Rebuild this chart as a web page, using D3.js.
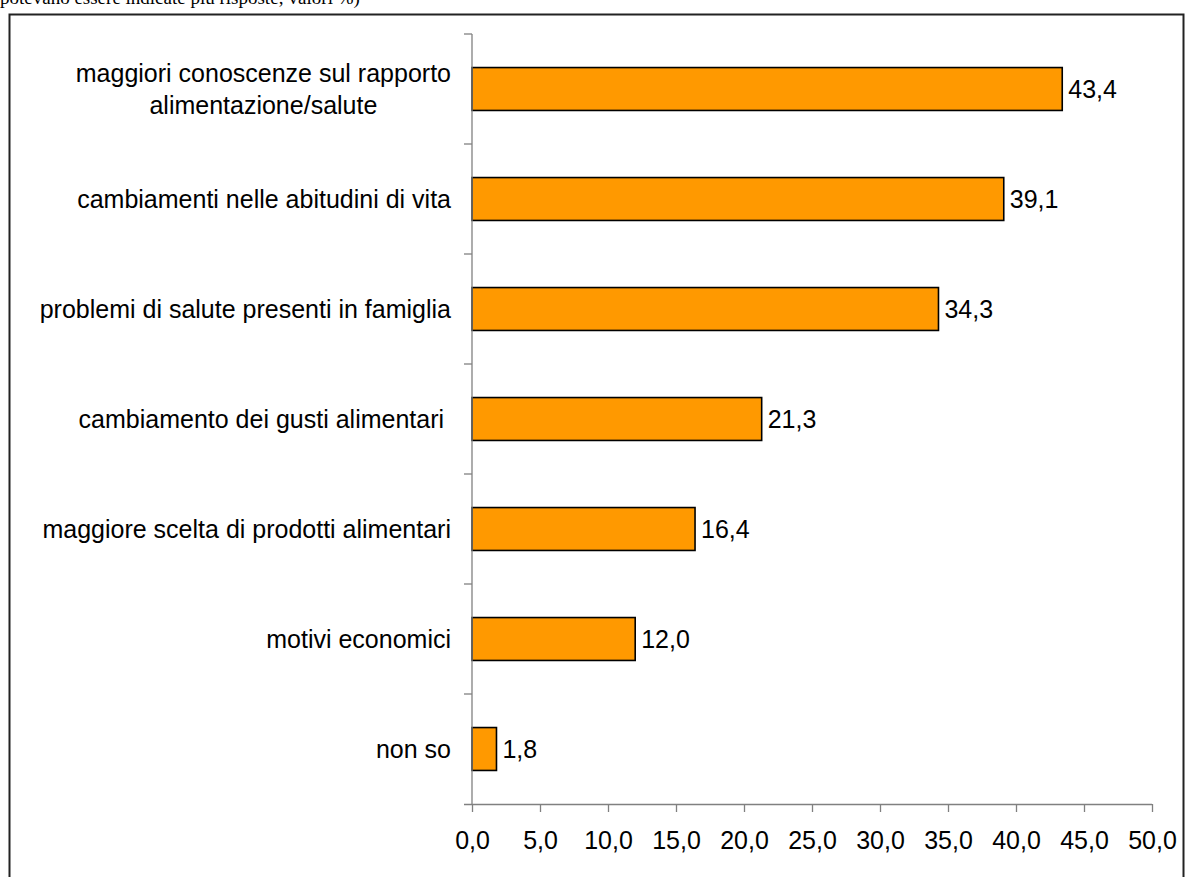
<!DOCTYPE html>
<html>
<head>
<meta charset="utf-8">
<script src="https://cdn.jsdelivr.net/npm/d3@7"></script>
<style>
  html, body { margin: 0; padding: 0; background: #fff; }
  svg { display: block; }
  text { font-family: Arial, "Liberation Sans", sans-serif; fill: #000; }
</style>
</head>
<body>
<svg id="chart" width="1185" height="877"></svg>
<script>
// Motivi del cambiamento delle abitudini alimentari (%)
const categories = [
  ["maggiori conoscenze sul rapporto", "alimentazione/salute"],
  ["cambiamenti nelle abitudini di vita"],
  ["problemi di salute presenti in famiglia"],
  ["cambiamento dei gusti alimentari "],
  ["maggiore scelta di prodotti alimentari"],
  ["motivi economici"],
  ["non so"]
];
const values = [43.4, 39.1, 34.3, 21.3, 16.4, 12.0, 1.8];
const xTicks = [0, 5, 10, 15, 20, 25, 30, 35, 40, 45, 50];
const noteText = "potevano essere indicate più risposte; valori %)";

const svg = d3.select("#chart");
const fmt = v => d3.format(".1f")(v).replace(".", ",");
const fontSize = "25px";

// Caption line above the frame (only its lower part falls inside the page)
svg.append("text")
  .attr("x", 0).attr("y", 4)
  .style("font-family", "'Liberation Serif', 'Times New Roman', serif")
  .style("font-size", "19px")
  .text(noteText);

// Chart frame
svg.append("rect")
  .attr("x", 9.5).attr("y", 14.5)
  .attr("width", 1174).attr("height", 900)
  .attr("fill", "none").attr("stroke", "#222").attr("stroke-width", 2);

const plot = { left: 472, right: 1152, top: 34, bottom: 804 };

const x = d3.scaleLinear().domain([0, 50]).range([plot.left, plot.right]);
const y = d3.scaleBand()
  .domain(d3.range(categories.length))
  .range([plot.top, plot.bottom])
  .paddingInner(0.61).paddingOuter(0.305);

// Bars
svg.append("g").selectAll("rect")
  .data(values)
  .join("rect")
  .attr("x", x(0))
  .attr("y", (d, i) => y(i))
  .attr("width", d => x(d) - x(0))
  .attr("height", y.bandwidth())
  .attr("fill", "#FF9900")
  .attr("stroke", "#000")
  .attr("stroke-width", 1.6);

// Value labels
svg.append("g").selectAll("text")
  .data(values)
  .join("text")
  .attr("x", d => x(d) + 6)
  .attr("y", (d, i) => y(i) + y.bandwidth() / 2)
  .attr("dy", "0.36em")
  .style("font-size", fontSize)
  .text(d => fmt(d));

// X axis
const xAxis = svg.append("g")
  .attr("transform", `translate(0,${plot.bottom})`)
  .call(d3.axisBottom(x).tickValues(xTicks).tickFormat(fmt).tickSize(8).tickSizeOuter(0));
xAxis.select(".domain").attr("d", `M${plot.left - 8},0.5H${plot.right}`);
xAxis.selectAll("line").attr("stroke", "#808080").attr("stroke-width", 1.3);
xAxis.select(".domain").attr("stroke", "#808080").attr("stroke-width", 1.3);
xAxis.selectAll("text")
  .style("font-size", fontSize)
  .style("font-family", "Arial, 'Liberation Sans', sans-serif")
  .attr("y", 27);

// Y axis: vertical line with ticks on category boundaries
const step = y.step();
const boundaries = d3.range(categories.length + 1).map(i => plot.top + i * step);
const yAxis = svg.append("g");
yAxis.append("line")
  .attr("x1", plot.left).attr("x2", plot.left)
  .attr("y1", plot.top).attr("y2", plot.bottom)
  .attr("stroke", "#808080").attr("stroke-width", 1.3);
yAxis.selectAll("line.tick")
  .data(boundaries.slice(0, -1))
  .join("line")
  .attr("class", "tick")
  .attr("x1", plot.left - 8).attr("x2", plot.left)
  .attr("y1", d => d).attr("y2", d => d)
  .attr("stroke", "#808080").attr("stroke-width", 1.3);

// Category labels: each block is right-aligned, its lines centred within it
const labelRight = 451;
const lineGap = 32;
categories.forEach((lines, i) => {
  const cy = y(i) + y.bandwidth() / 2;
  const g = svg.append("g");
  const texts = lines.map((ln, k) => g.append("text")
    .attr("y", cy + (k - (lines.length - 1) / 2) * lineGap)
    .attr("dy", "0.36em")
    .style("font-size", fontSize)
    .style("white-space", "pre")
    .attr("text-anchor", "middle")
    .text(ln));
  const maxW = d3.max(texts, t => t.node().getComputedTextLength());
  texts.forEach(t => t.attr("x", labelRight - maxW / 2));
});
</script>
</body>
</html>
